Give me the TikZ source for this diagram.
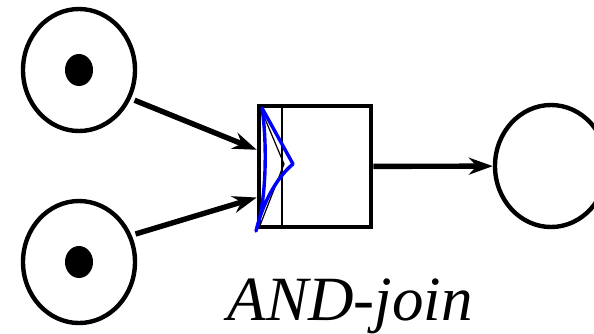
\documentclass[tikz,border=0pt]{standalone}
\usepackage{fontspec}
\setmainfont{Liberation Serif}
\usetikzlibrary{shapes.geometric,arrows.meta}

\begin{document}
\begin{tikzpicture}[x=0.5pt,y=-0.5pt,
  place/.style={draw,ellipse,line width=2.2pt,minimum width=56pt,minimum height=61pt,inner sep=0pt},
  token/.style={fill,ellipse,minimum width=14pt,minimum height=16pt,inner sep=0pt},
  trans/.style={draw,rectangle,line width=2.3pt,minimum width=56pt,minimum height=60.5pt,inner sep=0pt},
  arc/.style={line width=2.7pt,-{Stealth[length=12pt,width=8.5pt,inset=4pt]}}]
\useasboundingbox (0,0) rectangle (594,333);
% Posti di ingresso con gettone
\node[place] (p1) at (79,70) {};
\node[token] (k1) at (79,70) {};
\node[place] (p2) at (79,262) {};
\node[token] (k2) at (79,262) {};
% Transizione
\node[trans] (t) at (315,166.5) {};
\draw[line width=1.1pt] ([xshift=12.5pt]t.north west) -- ([xshift=12.5pt]t.south west);
% Simbolo di join
\draw[line width=0.6pt] (263,114) -- (284,164) -- (259,228);
\draw[blue,line width=1.7pt,line join=round,line cap=round] (262,108) -- (293,164)
  .. controls (276,178) and (262,205) .. (256,231)
  .. controls (267,200) and (267,140) .. (262,108) -- cycle;
% Posto di uscita
\node[place] (p3) at (551,166) {};
% Archi
\draw[arc,shorten <=2pt] (p1.-29) -- (t.164);
\draw[arc,shorten <=2pt] (p2.27) -- (t.208);
\draw[arc] (t) -- (p3);
\node[font=\fontsize{31.5}{36}\selectfont\itshape,anchor=base,inner sep=0pt] (lbl) at (350,320) {AND-join};
\end{tikzpicture}
\end{document}
